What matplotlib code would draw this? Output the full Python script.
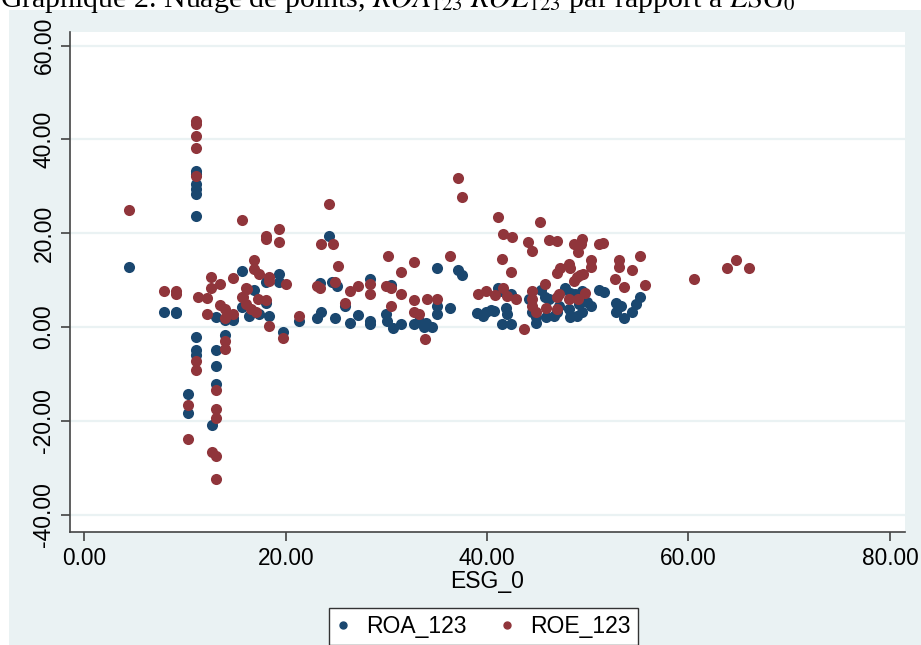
import matplotlib
matplotlib.use("Agg")
import matplotlib.pyplot as plt
from matplotlib.lines import Line2D
from matplotlib.patches import Rectangle

# nuage de points ROA_123 / ROE_123 en fonction de ESG_0
esg_roa = [11.13, 11.13, 11.13, 11.13, 11.13, 11.13, 4.46, 7.87, 9.07, 9.07,
           13.07, 13.97, 14.77, 14.77, 15.63, 15.67, 16.87, 16.37, 17.37, 18.07,
           18.07, 19.32, 19.32, 18.37, 19.77, 21.37, 23.07, 23.47, 23.42, 24.32,
           24.57, 25.07, 25.87, 24.87, 26.37, 27.17, 28.37, 28.37, 28.37, 30.47,
           29.97, 30.07, 30.62, 31.47, 32.77, 33.27, 33.77, 34.57, 33.97, 35.02,
           35.02, 35.02, 36.27, 37.12, 37.47,
           11.13, 11.13, 11.13, 13.07, 13.97, 13.07, 13.07, 10.27, 10.27, 12.67,
           41.12, 41.52, 42.37, 39.57, 39.87, 40.67, 41.87, 42.02, 41.52, 42.37,
           44.17, 44.47, 44.87, 44.87, 45.32, 45.77, 46.17, 45.82, 46.67, 46.97,
           47.17, 47.77, 48.27, 48.77, 49.47, 48.17, 48.27, 48.97, 49.47, 49.17,
           50.27, 49.97, 51.07, 51.57, 52.77, 52.77, 53.27, 53.57, 54.37, 54.77,
           55.17, 38.97, 40.37]
roa = [33.3, 32.6, 30.5, 29.5, 28.4, 23.6, 12.7, 3.1, 2.9, 3.3,
       2.1, 1.5, 1.5, 2.0, 12.0, 4.3, 7.9, 2.4, 2.7, 5.2,
       9.5, 11.3, 9.5, 2.4, -1.1, 1.3, 2.0, 3.1, 9.3, 19.5,
       9.5, 8.8, 4.5, 2.0, 0.9, 2.6, 10.3, 1.3, 0.6, 9.0,
       2.7, 1.3, -0.3, 0.7, 0.6, 1.3, -0.1, -0.1, 0.9, 4.5,
       2.7, 12.6, 4.1, 12.1, 11.0,
       -2.1, -4.8, -5.9, -4.8, -1.8, -8.4, -12.1, -14.2, -18.3, -20.8,
       8.4, 7.7, 7.0, 2.4, 3.1, 3.4, 4.0, 2.7, 0.7, 0.7,
       5.9, 3.1, 2.1, 0.9, 7.9, 6.3, 5.9, 2.1, 2.4, 3.1,
       4.5, 8.4, 7.3, 7.0, 7.7, 3.8, 2.1, 2.4, 3.3, 4.9,
       4.5, 5.4, 7.9, 7.5, 5.2, 3.3, 4.5, 1.9, 3.3, 4.9,
       6.3, 3.0, 3.6]

esg_roe = [11.13, 11.13, 11.13, 11.13, 11.13, 4.46, 15.63, 7.87, 9.07, 9.07,
           11.27, 12.17, 12.62, 12.62, 13.47, 12.17, 13.47, 13.97, 13.97, 14.77,
           14.77, 16.87, 16.87, 17.37, 16.07, 15.67, 16.07, 16.57, 17.07, 17.27,
           18.07, 18.37, 18.37, 20.07, 18.37, 19.77, 21.37, 18.07, 18.07, 19.32,
           19.32, 24.32, 23.47, 24.67, 25.17, 23.07, 23.42, 24.87, 25.87, 26.37,
           27.17, 28.37, 28.37, 30.12, 31.47, 32.77, 36.27, 29.97, 30.47, 31.47,
           30.47, 32.77, 34.07, 35.02, 32.77, 33.27, 33.87, 37.07, 37.47, 41.12,
           45.27, 41.57, 42.47, 41.52, 42.37, 44.07, 44.47, 46.17, 46.97, 48.63,
           49.47, 49.37, 49.07, 51.07, 51.47, 50.27, 50.27, 53.07, 53.07, 54.37,
           55.17, 52.67, 53.57, 55.67, 60.52, 63.87, 64.67, 65.97, 46.97, 47.27,
           48.17, 48.27, 48.63, 48.97, 49.27, 49.52, 45.77, 47.17, 46.97, 49.77,
           48.17, 49.07, 39.07, 39.87, 40.77, 41.57, 41.97, 42.87, 44.47, 44.47,
           44.47, 44.87, 45.82, 46.97, 43.67, 15.77, 16.17,
           11.13, 11.13, 13.97, 13.97, 13.07, 10.27, 13.07, 13.07, 10.27, 12.67,
           13.07, 13.07]
roe = [44.0, 43.3, 40.7, 38.2, 32.1, 25.05, 22.8, 7.7, 7.6, 7.0,
       6.5, 6.1, 10.6, 8.3, 9.1, 2.7, 4.7, 3.8, 2.0, 2.7,
       10.4, 14.3, 12.3, 11.3, 8.3, 6.4, 4.9, 3.8, 3.1, 5.9,
       5.7, 10.6, 9.8, 9.1, 0.2, -2.4, 2.4, 19.5, 18.8, 20.8,
       18.2, 26.3, 17.6, 17.7, 13.1, 8.8, 8.3, 9.7, 5.2, 7.7,
       8.8, 9.1, 7.1, 15.1, 11.8, 13.9, 15.2, 8.8, 8.4, 7.1,
       4.5, 5.7, 5.9, 5.9, 3.1, 2.7, -2.5, 31.8, 27.7, 23.4,
       22.3, 19.8, 19.1, 14.6, 11.8, 18.1, 16.3, 18.6, 18.3, 17.6,
       18.8, 17.8, 16.1, 17.7, 17.9, 14.3, 12.8, 14.3, 12.8, 12.2,
       15.2, 10.3, 8.6, 9.0, 10.2, 12.6, 14.3, 12.6, 11.6, 12.6,
       13.4, 12.6, 9.8, 10.6, 11.1, 11.3, 9.1, 7.0, 6.3, 7.3,
       5.9, 5.9, 7.1, 7.7, 6.9, 8.3, 6.6, 5.9, 7.7, 5.9,
       4.5, 3.1, 4.0, 3.8, -0.5, 6.3, 8.1,
       -7.3, -9.1, -3.0, -4.6, -13.4, -16.6, -17.4, -19.3, -23.9, -26.6,
       -27.6, -32.5]

xticks = [0, 20, 40, 60, 80]
yticks = [-40, -20, 0, 20, 40, 60]

NAVY = "#1a476f"
MAROON = "#90353b"
GRAPHBG = "#eaf2f3"

plt.rcParams["font.family"] = ["Liberation Sans", "DejaVu Sans"]
plt.rcParams["mathtext.fontset"] = "stix"

W, H = 921, 645
fig = plt.figure(figsize=(W / 100, H / 100), dpi=100)
fig.patch.set_facecolor("white")

# fond bleu-gris de la zone graphique (style Stata s2color)
fig.patches.append(Rectangle((9 / W, 0), 1, (H - 10) / H, transform=fig.transFigure,
                             facecolor=GRAPHBG, edgecolor="none", zorder=-10))

# titre coupé en haut de l'image
fig.text(0.0, 1 - 7 / H,
         r"Graphique 2. Nuage de points, $ROA_{123}$ $ROE_{123}$ par rapport à $ESG_0$",
         family="Liberation Serif", fontsize=21.5, va="baseline", ha="left")

ax = fig.add_axes([70 / W, (H - 532) / H, 835 / W, 500 / H])
ax.set_facecolor("white")

ax.scatter(esg_roa, roa, s=64, color=NAVY, linewidths=0, zorder=3)
ax.scatter(esg_roe, roe, s=64, color=MAROON, linewidths=0, zorder=4)

ax.set_xlim(-1.42, 81.5)
ax.set_ylim(-43.7, 62.9)
ax.set_xticks(xticks)
ax.set_yticks(yticks)
ax.set_xticklabels(["%.2f" % v for v in xticks], fontsize=16.3)
ax.set_yticklabels(["%.2f" % v for v in yticks], fontsize=16.5, rotation=90, va="center")

ax.yaxis.grid(True, color=GRAPHBG, linewidth=1.6, zorder=0)
ax.xaxis.grid(False)
ax.set_axisbelow(True)

for s in ["top", "right"]:
    ax.spines[s].set_visible(False)
for s in ["left", "bottom"]:
    ax.spines[s].set_color("#444444")
    ax.spines[s].set_linewidth(1.2)
ax.tick_params(direction="out", length=6.5, width=1.1, color="#333333", pad=4)

ax.set_xlabel("ESG_0", fontsize=16.5, labelpad=0)

handles = [Line2D([], [], marker="o", linestyle="none", color=NAVY, markersize=5),
           Line2D([], [], marker="o", linestyle="none", color=MAROON, markersize=5)]
fig.legend(handles, ["ROA_123", "ROE_123"], loc="upper left",
           bbox_to_anchor=(329 / W, (H - 608) / H), ncol=2, fontsize=16.5,
           frameon=True, fancybox=False, edgecolor="#333333", framealpha=1,
           borderaxespad=0, borderpad=0.3, handlelength=0.6, handletextpad=0.7,
           columnspacing=1.5)

fig.savefig("out.png", dpi=100)
